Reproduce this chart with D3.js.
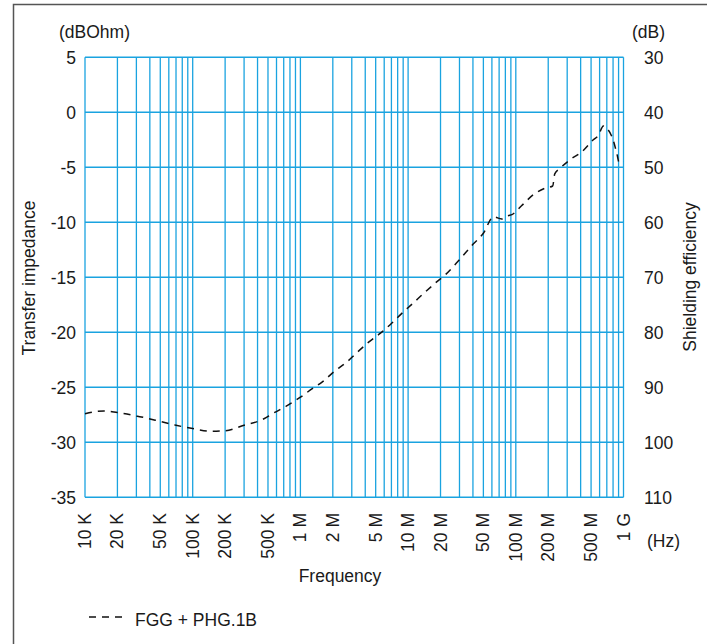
<!DOCTYPE html>
<html>
<head>
<meta charset="utf-8">
<script src="https://cdn.jsdelivr.net/npm/d3@7"></script>
<style>
  body { margin: 0; background: #fff; }
  text { font-family: "Liberation Sans", Arial, sans-serif; fill: #1a1a1a; }
</style>
</head>
<body>
<div id="chart"></div>
<script>
// curve (frequency in Hz, transfer impedance in dBOhm)
var freqs = [1e4, 1.5e4, 2e4, 3e4, 5e4, 7e4, 1e5, 1.5e5, 2e5, 3e5, 4.4e5, 5.6e5, 7.6e5, 1e6,
             1.3e6, 1.6e6, 2.1e6, 2.7e6, 3.3e6, 4.3e6, 5.5e6, 7e6, 8.7e6, 1.1e7, 1.4e7, 1.8e7,
             2.2e7, 3e7, 4e7, 5e7, 6.2e7, 7.4e7, 8.5e7, 9.2e7, 1.13e8, 1.45e8, 1.87e8, 2.2e8,
             2.3e8, 2.57e8, 3.2e8, 4.1e8, 5.25e8, 5.85e8, 6.5e8, 7e8, 8e8, 8.65e8, 9.15e8, 1e9];
var impedance = [-27.4, -27.15, -27.3, -27.6, -28.1, -28.45, -28.75, -29.0, -28.95, -28.45, -27.95, -27.35, -26.65, -25.9,
             -25.1, -24.5, -23.5, -22.7, -21.9, -20.9, -20.1, -19.2, -18.3, -17.4, -16.45, -15.5,
             -14.8, -13.4, -12.0, -11.0, -9.5, -9.7, -9.4, -9.3, -8.5, -7.5, -6.9, -6.7,
             -5.6, -5.1, -4.3, -3.6, -2.5, -2.1, -1.25, -1.45, -2.5, -3.7, -4.6, -4.5];

var leftTicks = [5, 0, -5, -10, -15, -20, -25, -30, -35];
var xLabelVals = [1e4, 2e4, 5e4, 1e5, 2e5, 5e5, 1e6, 2e6, 5e6, 1e7, 2e7, 5e7, 1e8, 2e8, 5e8, 1e9];
var xLabels = ["10 K", "20 K", "50 K", "100 K", "200 K", "500 K", "1 M", "2 M", "5 M", "10 M",
               "20 M", "50 M", "100 M", "200 M", "500 M", "1 G"];

var width = 707, height = 644;
var plotLeft = 85, plotRight = 623.5, plotTop = 57.3, plotBottom = 497.3;
var grid = "#1aa3e0";

var svg = d3.select("#chart").append("svg")
    .attr("width", width)
    .attr("height", height);

// frame
svg.append("rect")
    .attr("x", 13.5).attr("y", 4.5)
    .attr("width", 720).attr("height", 660)
    .attr("fill", "none")
    .attr("stroke", "#555")
    .attr("stroke-width", 1.5);

var x = d3.scaleLog().domain([1e4, 1e9]).range([plotLeft, plotRight]);
var y = d3.scaleLinear().domain([-35, 5]).range([plotBottom, plotTop]);
// shielding efficiency (dB) = 40 - 2 * transfer impedance
var y2 = d3.scaleLinear().domain([110, 30]).range([plotBottom, plotTop]);

// vertical grid: 1..9 of every decade
var xGrid = [];
for (var e = 4; e < 9; e++) {
    for (var m = 1; m < 10; m++) xGrid.push(m * Math.pow(10, e));
}
xGrid.push(1e9);

svg.append("g").selectAll("line")
    .data(xGrid)
    .enter().append("line")
    .attr("x1", function (d) { return x(d); })
    .attr("x2", function (d) { return x(d); })
    .attr("y1", plotTop).attr("y2", plotBottom)
    .attr("stroke", grid)
    .attr("stroke-width", 1.3);

svg.append("g").selectAll("line")
    .data(leftTicks)
    .enter().append("line")
    .attr("x1", plotLeft).attr("x2", plotRight)
    .attr("y1", function (d) { return y(d); })
    .attr("y2", function (d) { return y(d); })
    .attr("stroke", grid)
    .attr("stroke-width", 1.5);

// left axis labels
svg.append("g").selectAll("text")
    .data(leftTicks)
    .enter().append("text")
    .attr("x", 76)
    .attr("y", function (d) { return y(d); })
    .attr("dy", "0.36em")
    .attr("text-anchor", "end")
    .attr("font-size", 17.5)
    .text(function (d) { return d; });

// right axis labels
svg.append("g").selectAll("text")
    .data(y2.ticks(8))
    .enter().append("text")
    .attr("x", 644)
    .attr("y", function (d) { return y2(d); })
    .attr("dy", "0.36em")
    .attr("font-size", 17.5)
    .text(function (d) { return d; });

// x labels, rotated
svg.append("g").selectAll("text")
    .data(xLabelVals)
    .enter().append("text")
    .attr("transform", function (d) { return "translate(" + (x(d) + 6) + ",513) rotate(-90)"; })
    .attr("text-anchor", "end")
    .attr("font-size", 17.5)
    .text(function (d, i) { return xLabels[i]; });

svg.append("text").attr("x", 59).attr("y", 38).attr("font-size", 17.5).text("(dBOhm)");
svg.append("text").attr("x", 632).attr("y", 38).attr("font-size", 17.5).text("(dB)");
svg.append("text").attr("x", 647).attr("y", 547).attr("font-size", 17.5).text("(Hz)");
svg.append("text").attr("x", 340).attr("y", 582).attr("text-anchor", "middle")
    .attr("font-size", 17.5).text("Frequency");
svg.append("text").attr("transform", "translate(35,278) rotate(-90)")
    .attr("text-anchor", "middle").attr("font-size", 17.5).text("Transfer impedance");
svg.append("text").attr("transform", "translate(696,277) rotate(-90)")
    .attr("text-anchor", "middle").attr("font-size", 17.5).text("Shielding efficiency");

// curve
var line = d3.line()
    .x(function (d, i) { return x(freqs[i]); })
    .y(function (d) { return y(d); })
    .curve(d3.curveMonotoneX);

svg.append("path")
    .datum(impedance)
    .attr("d", line)
    .attr("fill", "none")
    .attr("stroke", "#111")
    .attr("stroke-width", 1.5)
    .attr("stroke-dasharray", "7,6");

// legend
svg.append("line")
    .attr("x1", 89).attr("x2", 128)
    .attr("y1", 617).attr("y2", 617)
    .attr("stroke", "#111")
    .attr("stroke-width", 1.3)
    .attr("stroke-dasharray", "7,6");
svg.append("text").attr("x", 135).attr("y", 626).attr("font-size", 17.5).text("FGG + PHG.1B");
</script>
</body>
</html>
